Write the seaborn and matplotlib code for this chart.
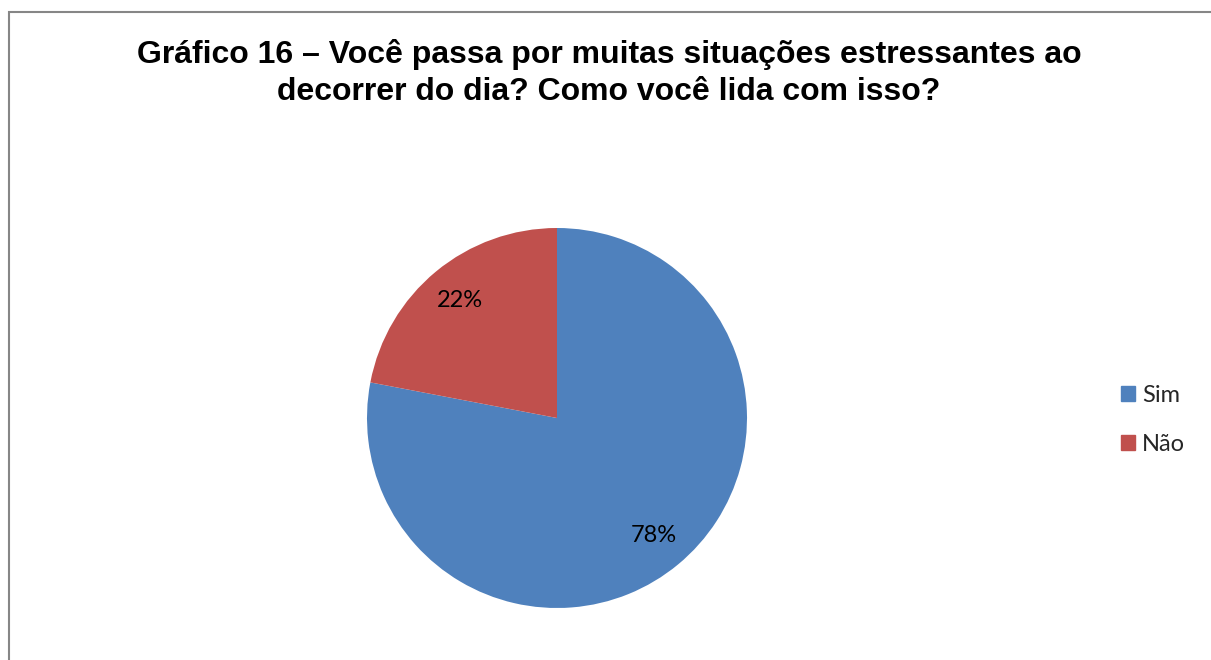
import matplotlib
matplotlib.use("Agg")
import matplotlib.pyplot as plt
import matplotlib.patches as mpatches
import seaborn as sns

# Dados do gráfico
categorias = ["Sim", "Não"]
percentuais = [78, 22]
cores = ["#4F81BD", "#C0504D"]
titulo = "Gráfico 16 – Você passa por muitas situações estressantes ao\ndecorrer do dia? Como você lida com isso?"

sns.set_theme(style="white")
plt.rcParams["font.family"] = ["Liberation Sans", "DejaVu Sans"]

W, H = 1211, 660
fig = plt.figure(figsize=(W / 100, H / 100), dpi=100)
fig.patch.set_facecolor("white")

# moldura do gráfico (lados direito e inferior ficam fora da imagem)
borda = mpatches.Rectangle((8.5 / W, -0.1), 1.2, (H - 11.5) / H + 0.1,
                           transform=fig.transFigure, fill=False,
                           edgecolor="#868686", linewidth=1.5)
fig.patches.append(borda)

# título
fig.text(609 / W, 1 - 73 / H, titulo, ha="center", va="center",
         fontsize=23, fontweight="bold", linespacing=1.27, color="black")

# pizza
cx, cy, r = 557, 418, 190
ax = fig.add_axes([(cx - r) / W, (H - cy - r) / H, 2 * r / W, 2 * r / H])
wedges, textos, autotextos = ax.pie(
    percentuais, colors=cores, startangle=90, counterclock=False,
    autopct="%1.0f%%", pctdistance=0.8, radius=1,
    wedgeprops=dict(linewidth=0),
    textprops=dict(fontsize=17, family=["Lato", "DejaVu Sans"], color="black"),
)
ax.set_aspect("equal")
ax.set_xlim(-1, 1)
ax.set_ylim(-1, 1)
ax.axis("off")

# legenda
handles = [mpatches.Patch(color=c, label=l) for c, l in zip(cores, categorias)]
leg = fig.legend(handles=handles, loc="center left",
                 bbox_to_anchor=(1121 / W, 1 - 420 / H), frameon=False,
                 prop=dict(family=["Lato", "DejaVu Sans"], size=17),
                 handlelength=0.6, handleheight=0.6, handletextpad=0.3,
                 labelspacing=1.2, borderpad=0, borderaxespad=0)

fig.savefig("out.png", dpi=100)
